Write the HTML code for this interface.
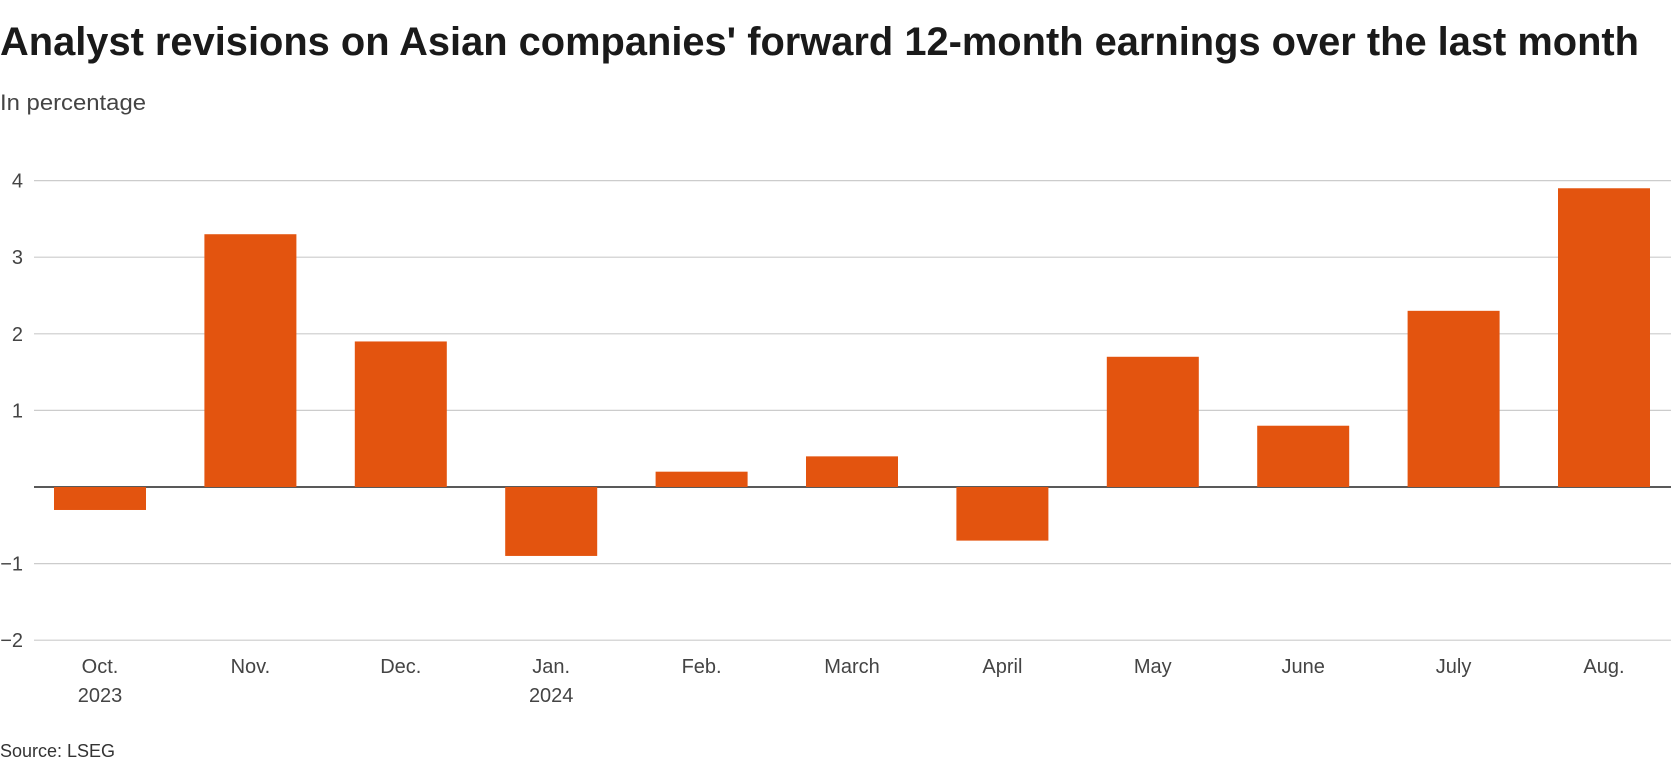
<!DOCTYPE html>
<html><head><meta charset="utf-8"><style>
html,body{margin:0;padding:0;background:#fff;}
svg{display:block;font-family:"Liberation Sans",sans-serif;}
</style></head><body>
<svg id="chart" width="1671" height="771" viewBox="0 0 1671 771">
<text x="0" y="55" font-size="40" font-weight="bold" fill="#1a1a1a" textLength="1639" lengthAdjust="spacingAndGlyphs">Analyst revisions on Asian companies' forward 12-month earnings over the last month</text>
<text x="0" y="110" font-size="22" fill="#444" textLength="146" lengthAdjust="spacingAndGlyphs">In percentage</text>
<g id="grid"></g><g id="bars"></g><g id="xlabels"></g>
<text x="0" y="757" font-size="18" fill="#333">Source: LSEG</text>
</svg>
<script>
const categories=["Oct.","Nov.","Dec.","Jan.","Feb.","March","April","May","June","July","Aug."];
const yearLabels=["2023","","","2024","","","","","","",""];
const values=[-0.3,3.3,1.9,-0.9,0.2,0.4,-0.7,1.7,0.8,2.3,3.9];
const yTicks=[-2,-1,0,1,2,3,4];
const yTickLabels=["\u22122","\u22121","","1","2","3","4"];
const NS="http://www.w3.org/2000/svg";
const y0=487, unit=76.6;
function yScale(v){return y0-v*unit;}
function xScale(i){return 100+i*150.4;}
const bw=92;
function mk(t,a,p){const e=document.createElementNS(NS,t);for(const k in a)e.setAttribute(k,a[k]);p.appendChild(e);return e;}
const grid=document.getElementById('grid');
yTicks.forEach((t,i)=>{
  const l=mk('line',{x1:34,x2:1671,y1:yScale(t),y2:yScale(t),stroke:t===0?'#222':'#ccc','stroke-width':t===0?1.5:1.2},grid);
  
  
  if(yTickLabels[i]){
    const tx=mk('text',{x:23,y:yScale(t)+7,'font-size':20,fill:'#444','text-anchor':'end'},grid);
    tx.textContent=yTickLabels[i];
    
    
  }
});
const bars=document.getElementById('bars');
values.forEach((v,i)=>{
  const top=Math.min(yScale(v),y0), h=Math.abs(yScale(v)-y0);
  const r=mk('rect',{x:xScale(i)-bw/2,y:top,width:bw,height:h,fill:'#e3540f'},bars);
  
  
});
const xl=document.getElementById('xlabels');
categories.forEach((c,i)=>{
  const t=mk('text',{x:xScale(i),y:673,'font-size':20,fill:'#444','text-anchor':'middle'},xl);
  t.textContent=c;
  
  
  if(yearLabels[i]){
    const t2=mk('text',{x:xScale(i),y:702,'font-size':20,fill:'#444','text-anchor':'middle'},xl);
    t2.textContent=yearLabels[i];
    
    
  }
});
</script>
</body></html>
